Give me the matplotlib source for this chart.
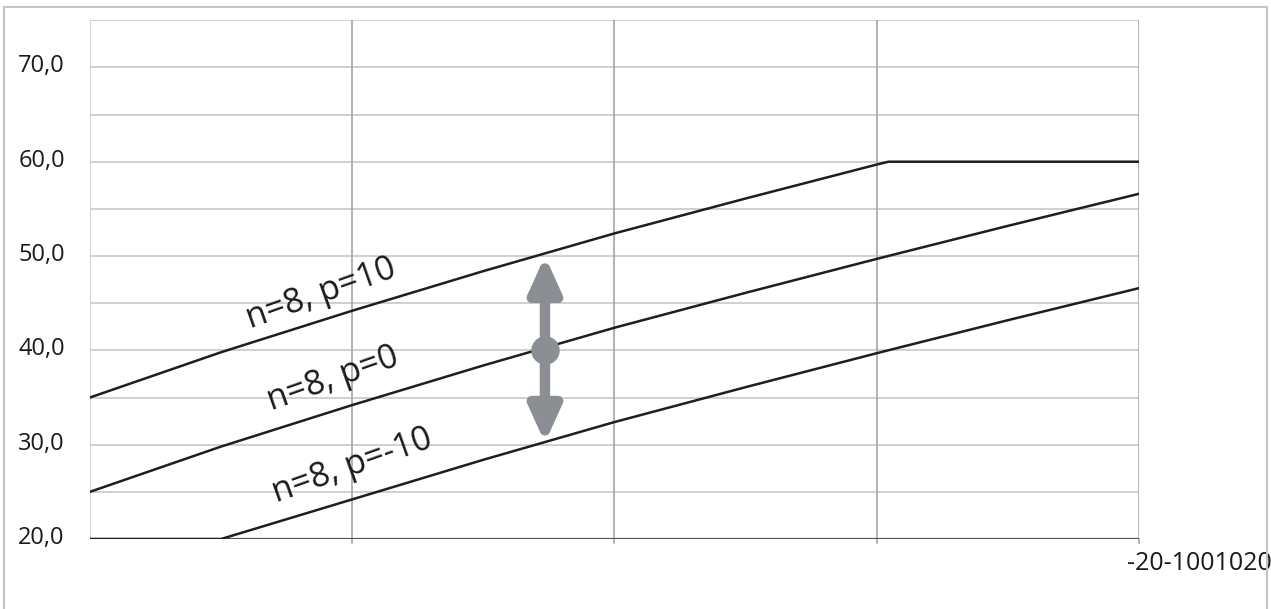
import matplotlib
matplotlib.use("Agg")
import matplotlib.pyplot as plt
import matplotlib.transforms as mtransforms
from matplotlib.patches import FancyArrowPatch, Rectangle

plt.rcParams['font.family'] = ['Open Sans', 'DejaVu Sans']

# curve values
x_p10 = [-20, -15, -10, -5, 0, 5, 10, 10.45, 15, 20]
y_p10 = [35.0, 39.8, 44.2, 48.4, 52.4, 56.1, 59.7, 60.0, 60.0, 60.0]

x_p0 = [-20, -15, -10, -5, 0, 5, 10, 15, 20]
y_p0 = [25.0, 29.8, 34.2, 38.4, 42.4, 46.1, 49.7, 53.2, 56.6]

x_pm10 = [-20, -15, -10, -5, 0, 5, 10, 15, 20]
y_pm10 = [20.0, 20.0, 24.2, 28.4, 32.4, 36.1, 39.7, 43.2, 46.6]

labels = ["n=8, p=10", "n=8, p=0", "n=8, p=-10"]
label_pos = [(-11.2, 46.0), (-10.75, 37.0), (-10.0, 27.7)]

y_ticks = [20, 30, 40, 50, 60, 70]
y_ticklabels = ["20,0", "30,0", "40,0", "50,0", "60,0", "70,0"]
x_axis_text = "-20-1001020"

arrow_x = -2.65
arrow_lo, arrow_mid, arrow_hi = 30.2, 40.05, 50.0

fig = plt.figure(figsize=(12.71, 6.09), dpi=100)
ax = fig.add_axes([0.0707, 0.1149, 0.8255, 0.8519])

# frame round whole chart
fig.patches.append(Rectangle((0.003, -0.05), 0.994, 1.038, transform=fig.transFigure,
                             fill=False, edgecolor='#c4c4c4', lw=1.5))

ax.set_xlim(-20, 20)
ax.set_ylim(20, 75)

for yv in range(25, 76, 5):
    ax.axhline(yv, color='#cdcdcd', lw=1.3, zorder=1)
for xv in [-10, 0, 10, 20]:
    ax.axvline(xv, color='#a6a6a6', lw=1.2, zorder=1)
    ax.plot([xv, xv], [20, 19.6], color='#a6a6a6', lw=1.2, clip_on=False, zorder=1)
ax.axvline(-20, color='#cdcdcd', lw=1.3, zorder=1)

for s in ax.spines.values():
    s.set_visible(False)
ax.axhline(20, color='#555555', lw=1.6, zorder=2)

for xs, ys in [(x_p10, y_p10), (x_p0, y_p0), (x_pm10, y_pm10)]:
    ax.plot(xs, ys, color='#1e1e1e', lw=1.8, zorder=3)

for txt, (tx, ty) in zip(labels, label_pos):
    ax.text(tx, ty, txt, fontsize=24.5, rotation=19.5, rotation_mode='anchor',
            ha='center', va='center', color='#1a1a1a', zorder=4)

arr = FancyArrowPatch((arrow_x, arrow_lo), (arrow_x, arrow_hi),
                      arrowstyle='<|-|>,head_length=21,head_width=9.5',
                      mutation_scale=1, lw=7.5, color='#8b8e93',
                      shrinkA=0, shrinkB=0, zorder=5)
ax.add_patch(arr)
ax.plot([arrow_x], [arrow_mid], 'o', ms=19.5, color='#8b8e93', zorder=6)

ax.set_xticks([])
ax.set_yticks(y_ticks)
ax.set_yticklabels(y_ticklabels, fontsize=17, color='#1a1a1a')
ax.tick_params(axis='y', length=0, pad=18)
shift = mtransforms.ScaledTranslation(0, 4 / 100, fig.dpi_scale_trans)
for lbl in ax.get_yticklabels():
    lbl.set_transform(lbl.get_transform() + shift)

ax.text(19.55, 17.45, x_axis_text, fontsize=18, color='#1a1a1a', ha='left', va='center',
        clip_on=False)

fig.savefig('out.png', dpi=100)
